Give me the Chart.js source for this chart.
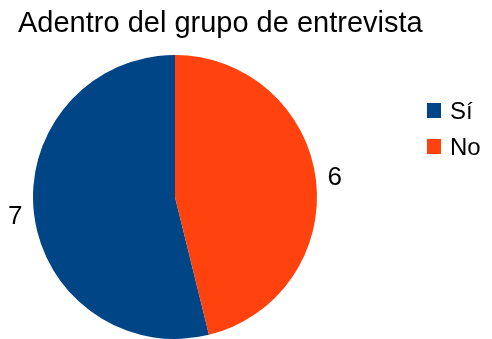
<!DOCTYPE html>
<html>
<head>
<meta charset="utf-8">
<script src="https://cdn.jsdelivr.net/npm/chart.js@4"></script>
<style>
  html, body { margin: 0; padding: 0; background: #fff; }
  #wrap { width: 492px; height: 339px; position: relative; }
</style>
</head>
<body>
<div id="wrap"><canvas id="myChart"></canvas></div>
<script>
const title = 'Adentro del grupo de entrevista';
const labels = ['Sí', 'No'];
const values = [7, 6];
const colors = ['#004586', '#ff420e'];

const FONT = '"Liberation Sans", Arial, sans-serif';

// slices run counter-clockwise from the top, so start "Sí" after "No"
const total = values.reduce((a, b) => a + b, 0);
const startDeg = values[1] / total * 360;

// title, legend and value labels drawn straight onto the canvas
const decor = {
  id: 'decor',
  afterDraw(chart) {
    const ctx = chart.ctx;
    ctx.save();
    ctx.fillStyle = '#000';
    ctx.textBaseline = 'alphabetic';
    ctx.textAlign = 'left';
    ctx.font = '29px ' + FONT;
    ctx.fillText(title, 18, 32);

    // legend
    ctx.font = '24px ' + FONT;
    labels.forEach((l, i) => {
      const y = 103 + i * 36;
      ctx.fillStyle = colors[i];
      ctx.fillRect(427, y, 14, 15);
      ctx.fillStyle = '#000';
      ctx.fillText(l, 450, y + 16);
    });

    // values outside each slice
    ctx.font = '26px ' + FONT;
    ctx.textAlign = 'center';
    ctx.textBaseline = 'middle';
    chart.getDatasetMeta(0).data.forEach((arc, i) => {
      const mid = (arc.startAngle + arc.endAngle) / 2;
      const r = arc.outerRadius + 19;
      ctx.fillText(String(values[i]), arc.x + Math.cos(mid) * r, arc.y + Math.sin(mid) * r);
    });
    ctx.restore();
  }
};

new Chart(document.getElementById('myChart').getContext('2d'), {
  type: 'pie',
  data: {
    labels: labels,
    datasets: [{
      data: values,
      backgroundColor: colors,
      borderWidth: 0
    }]
  },
  options: {
    responsive: true,
    maintainAspectRatio: false,
    animation: false,
    rotation: startDeg,
    layout: { padding: { left: 33, right: 175, top: 55, bottom: 0 } },
    plugins: {
      legend: { display: false },
      title: { display: false },
      tooltip: { enabled: false }
    }
  },
  plugins: [decor]
});
</script>
</body>
</html>
